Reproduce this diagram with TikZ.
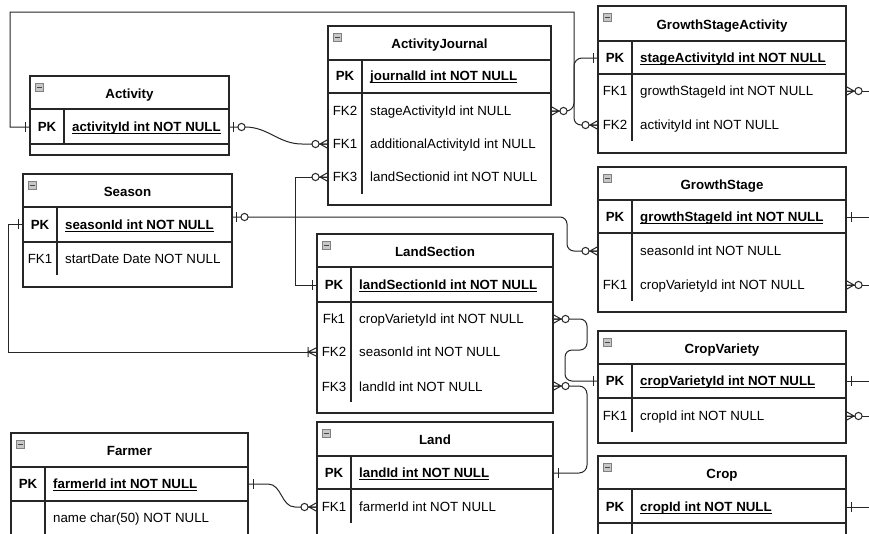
\documentclass[tikz,border=0pt]{standalone}
\usepackage{fontspec}
\setmainfont{Liberation Sans}
\usetikzlibrary{calc}
\newcommand\ulx[1]{\leavevmode\setbox0\hbox{#1}\rlap{\rule[-2.3pt]{\wd0}{0.9pt}}\box0}
\newcommand\micon[2]{%
  \draw[draw=black!50,fill=black!22,line width=0.7pt] (#1+5,#2+7) rectangle ++(8.5,8.5);
  \draw[draw=black!72,line width=1.4pt] (#1+6.8,#2+11.25) -- ++(4.9,0);}
\newcommand\ertbl[9]{%
  \fill[white] (#2,#4) rectangle (#3,#7);
  \draw[tbl] (#2,#4) rectangle (#3,#7);
  \draw[tbl] (#2,#5) -- (#3,#5);
  \draw[tbl] (#2,#6) -- (#3,#6);
  \draw[tbl] (#2+34,#5) -- (#2+34,#8);
  \micon{#2}{#4}
  \node[ttl] (#1) at ({(#2+#3)/2},{(#4+#5)/2+5.8}) {#9};}
\newcommand\erow[5]{%
  \node[keyt] (#1k) at (#2+17,#3+4.8) {#4};
  \node[namet] (#1n) at (#2+42,#3+4.8) {#5};}
\newcommand\pkrow[4]{\erow{#1}{#2}{#3}{\textbf{PK}}{\ulx{\textbf{#4}}}}
\newcommand\mkOne[2]{\begin{scope}[shift={(#1)},xscale=#2]\draw[conn] (5,-5) -- (5,5);\end{scope}}
\newcommand\mkZeroOne[2]{\begin{scope}[shift={(#1)},xscale=#2]\draw[conn] (4,-5) -- (4,5); \draw[conn,fill=white] (12.5,0) circle[radius=3.6pt];\end{scope}}
\newcommand\mkZeroMany[2]{\begin{scope}[shift={(#1)},xscale=#2]\draw[conn] (0,-4.5) -- (8,0) -- (0,4.5) (0,0) -- (8,0); \draw[conn,fill=white] (12.5,0) circle[radius=3.6pt];\end{scope}}
\newcommand\mkOneMany[2]{\begin{scope}[shift={(#1)},xscale=#2]\draw[conn] (0,-4.5) -- (9,0) -- (0,4.5) (0,0) -- (9,0) (9,-5) -- (9,5);\end{scope}}
\begin{document}
\begin{tikzpicture}[x=1pt,y=-1pt,
  font=\fontsize{13.3}{16}\selectfont,
  tbl/.style={draw=black!85,line width=1.1pt},
  conn/.style={draw=black!85,line width=1pt},
  ttl/.style={anchor=base,font=\fontsize{13.3}{16}\selectfont\bfseries,inner sep=0pt},
  keyt/.style={anchor=base,inner sep=0pt},
  namet/.style={anchor=base west,inner sep=0pt}]
\useasboundingbox (0,0) rectangle (869,533);
\fill[white] (0,0) rectangle (869,533);
\clip (0,0) rectangle (869,533);

% ---- connection points
\coordinate (actPKw) at (30,127);  \coordinate (actPKe) at (229,127);
\coordinate (ajFKiie) at (551,111); \coordinate (ajFKiw) at (328,144); \coordinate (ajFKiiiw) at (328,177);
\coordinate (gsaPKw) at (598,58);  \coordinate (gsaFKie) at (846,91); \coordinate (gsaFKiiw) at (598,125);
\coordinate (gsPKe) at (846,217);  \coordinate (gsSw) at (598,251);   \coordinate (gsFKie) at (846,285);
\coordinate (seaPKe) at (232,217); \coordinate (seaPKw) at (23,224);
\coordinate (lsPKw) at (317,285);  \coordinate (lsFKie) at (553,319); \coordinate (lsFKiiw) at (317,352); \coordinate (lsFKiiie) at (553,386);
\coordinate (landPKe) at (553,473); \coordinate (landFKiw) at (317,507);
\coordinate (farPKe) at (248,484);
\coordinate (cvPKw) at (598,381);  \coordinate (cvPKe) at (846,381);  \coordinate (cvFKie) at (846,416);
\coordinate (cropPKe) at (846,507);
\coordinate (xa) at (872,91);  \coordinate (xb) at (872,217); \coordinate (xc) at (872,285);
\coordinate (xd) at (872,381); \coordinate (xe) at (872,416); \coordinate (xf) at (872,507);

% ---- connectors
\draw[conn] (gsaFKiiw) [rounded corners=7pt] -- ++(-24,0) -- ++(0,-30) [sharp corners] -- ++(0,-83) -- (10,12) |- (actPKw);
\draw[conn] (actPKe) -- ++(16,0) to[out=0,in=180] ($(ajFKiw)+(-26,0)$) -- (ajFKiw);
\draw[conn,rounded corners=8pt] (ajFKiie) -- ++(23,0) |- (gsaPKw);
\draw[conn] (ajFKiiiw) -- ++(-33,0) |- (lsPKw);
\draw[conn,rounded corners=7pt] (seaPKe) -- ++(335,0) |- (gsSw);
\draw[conn] (seaPKw) -- ++(-15,0) |- (lsFKiiw);
\draw[conn,rounded corners=7pt] (lsFKie) -- ++(34,0) -- ++(0,31) -- ++(-22,0) |- (cvPKw);
\draw[conn,rounded corners=8pt] (lsFKiiie) -- ++(34,0) |- (landPKe);
\draw[conn] (farPKe) -- ++(20,0) to[out=0,in=180] ($(landFKiw)+(-22,0)$) -- (landFKiw);
\draw[conn] (gsaFKie) -- (xa);
\draw[conn] (gsPKe) -- (xb);
\draw[conn] (gsFKie) -- (xc);
\draw[conn] (cvPKe) -- (xd);
\draw[conn] (cvFKie) -- (xe);
\draw[conn] (cropPKe) -- (xf);

% ---- tables
\ertbl{act}{30}{229}{76}{109}{144}{155}{144}{Activity}
\draw[tbl,line width=1.6pt] (30,144) -- (229,144);
\pkrow{actpk}{30}{127}{activityId int NOT NULL}

\ertbl{aj}{328}{551}{26}{60}{93}{205}{194}{ActivityJournal}
\pkrow{ajpk}{328}{76}{journalId int NOT NULL}
\erow{ajfb}{328}{111}{FK2}{stageActivityId int NULL}
\erow{ajfa}{328}{144}{FK1}{additionalActivityId int NULL}
\erow{ajfc}{328}{177}{FK3}{landSectionid int NOT NULL}

\ertbl{gsa}{598}{846}{6}{41}{74}{153}{141}{GrowthStageActivity}
\pkrow{gsapk}{598}{58}{stageActivityId int NOT NULL}
\erow{gsafa}{598}{91}{FK1}{growthStageId int NOT NULL}
\erow{gsafb}{598}{125}{FK2}{activityId int NOT NULL}

\ertbl{gs}{598}{846}{167}{200}{233}{312}{301}{GrowthStage}
\pkrow{gspk}{598}{217}{growthStageId int NOT NULL}
\erow{gss}{598}{251}{}{seasonId int NOT NULL}
\erow{gsfa}{598}{285}{FK1}{cropVarietyId int NOT NULL}

\ertbl{sea}{23}{232}{174}{207}{242}{287}{275}{Season}
\pkrow{seapk}{23}{225}{seasonId int NOT NULL}
\erow{seafa}{23}{259}{FK1}{startDate Date NOT NULL}

\ertbl{ls}{317}{553}{234}{267}{302}{413}{402}{LandSection}
\pkrow{lspk}{317}{285}{landSectionId int NOT NULL}
\erow{lsfa}{317}{319}{Fk1}{cropVarietyId int NOT NULL}
\erow{lsfb}{317}{352}{FK2}{seasonId int NOT NULL}
\erow{lsfc}{317}{387}{FK3}{landId int NOT NULL}

\ertbl{land}{317}{553}{422}{456}{489}{560}{523}{Land}
\pkrow{landpk}{317}{473}{landId int NOT NULL}
\erow{landfa}{317}{507}{FK1}{farmerId int NOT NULL}

\ertbl{far}{11}{248}{433}{467}{501}{560}{560}{Farmer}
\pkrow{farpk}{11}{484}{farmerId int NOT NULL}
\erow{farn}{11}{518}{}{name char(50) NOT NULL}

\ertbl{cv}{598}{846}{331}{364}{398}{443}{432}{CropVariety}
\pkrow{cvpk}{598}{381}{cropVarietyId int NOT NULL}
\erow{cvfa}{598}{416}{FK1}{cropId int NOT NULL}

\ertbl{crop}{598}{846}{456}{489}{523}{560}{560}{Crop}
\pkrow{croppk}{598}{507}{cropId int NOT NULL}

% ---- cardinality markers
\mkOne{actPKw}{-1}
\mkZeroOne{actPKe}{1}
\mkZeroMany{ajFKiw}{-1}
\mkZeroMany{ajFKiie}{1}
\mkZeroMany{ajFKiiiw}{-1}
\mkOne{gsaPKw}{-1}
\mkZeroMany{gsaFKiiw}{-1}
\mkZeroMany{gsaFKie}{1}
\mkOne{gsPKe}{1}
\mkZeroMany{gsSw}{-1}
\mkZeroMany{gsFKie}{1}
\mkZeroOne{seaPKe}{1}
\mkOne{seaPKw}{-1}
\mkOne{lsPKw}{-1}
\mkZeroMany{lsFKie}{1}
\mkOneMany{lsFKiiw}{-1}
\mkZeroMany{lsFKiiie}{1}
\mkOne{landPKe}{1}
\mkZeroMany{landFKiw}{-1}
\mkOne{farPKe}{1}
\mkOne{cvPKw}{-1}
\mkOne{cvPKe}{1}
\mkZeroMany{cvFKie}{1}
\mkOne{cropPKe}{1}
\end{tikzpicture}
\end{document}
